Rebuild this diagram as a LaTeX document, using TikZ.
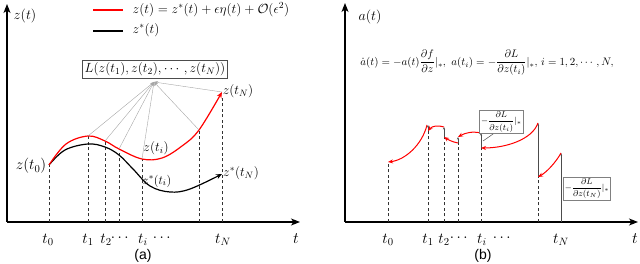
\RequirePackage{fix-cm}
\documentclass[tikz,border=0pt]{standalone}
\usepackage{amsmath}
\usepackage{fontspec}
\newfontfamily\capfont{Liberation Sans}
\usetikzlibrary{arrows.meta}
\begin{document}
\begin{tikzpicture}[x=1pt,y=-1pt,
 axis/.style={line width=1.1pt,-{Stealth[length=9pt,width=7pt,inset=2.5pt]}},
 guide/.style={dash pattern=on 3pt off 2.5pt,line width=0.6pt,black!80},
 redcurve/.style={red,line width=1.2pt,-{Stealth[length=6pt,width=5pt]}},
 blackcurve/.style={black,line width=1.2pt,-{Stealth[length=6pt,width=5pt]}},
 feed/.style={gray!70,line width=0.4pt,-{Stealth[length=4pt,width=3pt]}},
 jump/.style={black!70,line width=0.6pt,-{Stealth[length=2.5pt,width=2pt]}},
 redarrow/.style={red,line width=1pt,-{Stealth[length=5pt,width=4pt]}},
 lbl/.style={inner sep=0.5pt,font=\fontsize{15.2}{17}\selectfont},
 small/.style={inner sep=0.5pt,font=\fontsize{13.2}{15}\selectfont},
 gbox/.style={draw=gray,line width=0.6pt,fill=white},
 captext/.style={inner sep=1pt,font=\capfont\fontsize{14}{16}\selectfont}
]
\useasboundingbox (0,0) rectangle (640,264);

% ================= panel (a) =================
\coordinate (Ao) at (7,222);
\coordinate (Ax) at (300,222);
\coordinate (Ay) at (7,4);
\draw[axis] (Ao) -- (Ax);
\draw[axis] (Ao) -- (Ay);
\node[lbl,font=\fontsize{14}{16}\selectfont] (zlab) at (25,16) {$z(t)$};
\node[lbl,font=\fontsize{16}{18}\selectfont] (tlabA) at (296,239) {$t$};

% legend
\coordinate (lr1) at (93,10); \coordinate (lr2) at (123,10);
\coordinate (lb1) at (93,31); \coordinate (lb2) at (123,31);
\draw[red,line width=1.2pt] (lr1) -- (lr2);
\draw[black,line width=1.2pt] (lb1) -- (lb2);
\node[lbl,anchor=west,font=\fontsize{13.3}{15}\selectfont] (legr) at (132,10) {$z(t)=z^{*}(t)+\epsilon\eta(t)+\mathcal{O}(\epsilon^2)$};
\node[lbl,anchor=west,font=\fontsize{13.3}{15}\selectfont] (legb) at (132,30) {$z^{*}(t)$};

% curve points
\coordinate (r0) at (49,165);
\coordinate (r1) at (88,136);
\coordinate (r2) at (105,141);
\coordinate (r3) at (119,149);
\coordinate (ri) at (142,159);
\coordinate (r5) at (199,130);
\coordinate (rN) at (222,92);
\coordinate (bN) at (222,174);

% dashed guides
\foreach \c/\x in {r0/49,r1/88,r2/105,r3/119,ri/142,r5/199}{
  \coordinate (g\c) at (\x,222);
  \draw[guide] (g\c) -- (\c);
}
\coordinate (grN) at (222,222);
\coordinate (rNb) at (222,96);
\draw[guide] (grN) -- (rNb);

% curves
\draw[blackcurve] plot[smooth,tension=0.6] coordinates {(r0) (65,150) (88,144) (105,147) (119,155) (133,169) (150,186) (170,192) (190,189) (bN)};
\draw[redcurve] plot[smooth,tension=0.6] coordinates {(r0) (66,144) (r1) (r2) (r3) (ri) (162,158) (182,146) (r5) (rN)};

% L box and feeds
\node[lbl,draw=black!70,line width=0.6pt,inner sep=2.5pt,font=\fontsize{13.3}{15}\selectfont] (Lbox) at (155,69) {$L(z(t_1),z(t_2),\cdots,z(t_N))$};
\coordinate (Lp) at (154,82);
\foreach \c in {r1,r2,r3,ri,r5,rN}{
  \draw[feed] (\c) -- (Lp);
}

% labels
\node[lbl] (z0) at (31,166) {$z(t_0)$};
\node[small] (zi) at (156,148) {$z(t_i)$};
\node[small,font=\fontsize{12.3}{14}\selectfont] (zsi) at (157,181) {$z^{*}(t_i)$};
\node[small] (zsN) at (241,173) {$z^{*}(t_N)$};
\node[small] (zN) at (238,91) {$z(t_N)$};

% ticks
\node[lbl] (ta0) at (48,240) {$t_0$};
\node[lbl] (ta1) at (88,240) {$t_1$};
\node[lbl] (ta2) at (106,240) {$t_2$};
\node[lbl] (tad1) at (121,238) {$\cdots$};
\node[lbl] (tai) at (143,240) {$t_i$};
\node[lbl] (tad2) at (163,238) {$\cdots$};
\node[lbl] (taN) at (223,240) {$t_N$};
\node[captext] (capa) at (143,256) {(a)};

% ================= panel (b) =================
\coordinate (Bo) at (345,222);
\coordinate (Bx) at (638,222);
\coordinate (By) at (345,3);
\draw[axis] (Bo) -- (Bx);
\draw[axis] (Bo) -- (By);
\node[lbl,font=\fontsize{14}{16}\selectfont] (alab) at (370,17) {$a(t)$};
\node[lbl,font=\fontsize{16}{18}\selectfont] (tlabB) at (635,239) {$t$};

\node[inner sep=0pt,font=\fontsize{10.9}{12}\selectfont] (eq) at (487,63)
 {$\dot{a}(t)=-a(t)\dfrac{\partial f}{\partial z}|_{*},\ a(t_i)=-\dfrac{\partial L}{\partial z(t_i)}|_{*},\,i=1,2,\cdots,N,$};

% points
\coordinate (p0) at (388,162);
\coordinate (q1a) at (428,131); \coordinate (q1b) at (428,125);
\coordinate (q2a) at (444,137); \coordinate (q2b) at (444,127);
\coordinate (q3a) at (458,143); \coordinate (q3b) at (458,137);
\coordinate (qia) at (481,148); \coordinate (qib) at (481,133);
\coordinate (q5a) at (538,177); \coordinate (q5b) at (538,123);
\coordinate (qNa) at (561,222); \coordinate (qNb) at (561,153);

% dashed guides
\foreach \c/\x in {p0/388,q1a/428,q2a/444,q3a/458,qia/481,q5a/538}{
  \coordinate (h\c) at (\x,222);
  \draw[guide] (h\c) -- (\c);
}
% jumps
\draw[jump] (qNa) -- (qNb);
\draw[jump] (q5a) -- (q5b);
\draw[jump] (qia) -- (qib);
\draw[jump] (q3a) -- (q3b);
\draw[jump] (q2a) -- (q2b);
\draw[jump] (q1a) -- (q1b);

% backward red arrows
\draw[redarrow] (qNb) .. controls (556,162) and (547,172) .. (q5a);
\draw[redarrow] (q5b) .. controls (532,140) and (505,148) .. (qia);
\draw[redarrow] (qib) .. controls (472,131) and (465,133) .. (q3b);
\draw[redarrow] (q3a) .. controls (452,142) and (447,139) .. (q2a);
\draw[redarrow] (q2b) .. controls (438,125) and (432,126) .. (q1a);
\draw[redarrow] ([xshift=-1pt]q1b) .. controls (422,145) and (405,160) .. (p0);

% boxes
\node[gbox,inner sep=1.5pt,font=\fontsize{8.5}{9}\selectfont] (bi) at (501.5,122) {$-\dfrac{\partial L}{\partial z(t_i)}|_{*}$};
\coordinate (lti) at (483,141);
\draw[black!70,line width=0.5pt] (bi.235) -- (lti);
\node[gbox,inner sep=1.5pt,font=\fontsize{8.5}{9}\selectfont,anchor=west] (bN2) at (563,188.5) {$-\dfrac{\partial L}{\partial z(t_N)}|_{*}$};

% ticks
\node[lbl] (tb0) at (388,240) {$t_0$};
\node[lbl] (tb1) at (428,240) {$t_1$};
\node[lbl] (tb2) at (444,240) {$t_2$};
\node[lbl] (tbd1) at (460,238) {$\cdots$};
\node[lbl] (tbi) at (482,240) {$t_i$};
\node[lbl] (tbd2) at (503,238) {$\cdots$};
\node[lbl] (tbN) at (561,240) {$t_N$};
\node[captext] (capb) at (483,256) {(b)};
\end{tikzpicture}
\end{document}
